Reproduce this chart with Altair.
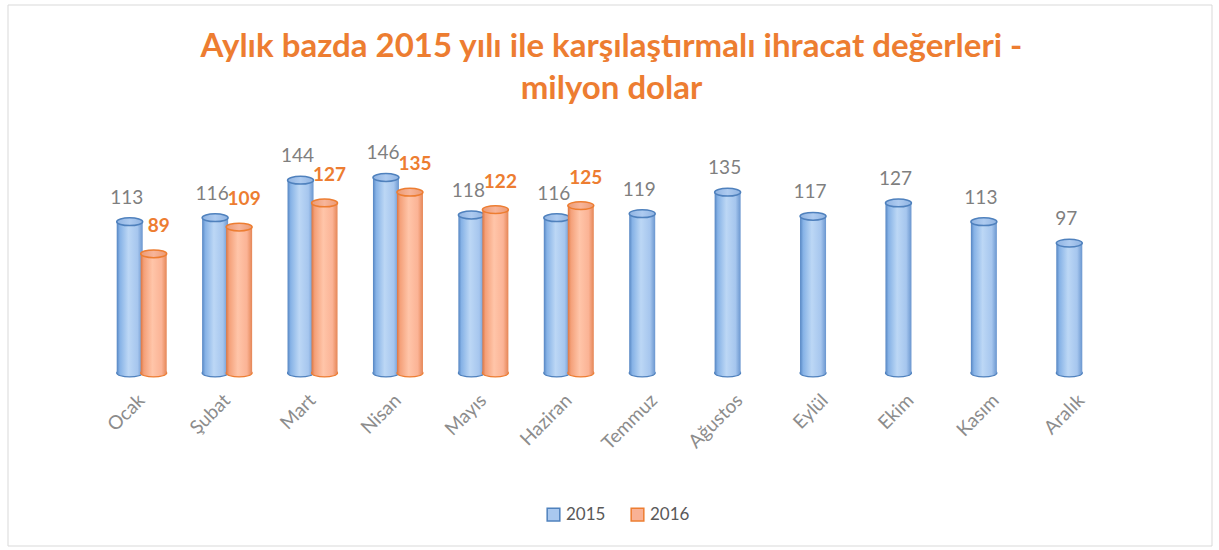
import altair as alt
import pandas as pd

months = ["Ocak", "Şubat", "Mart", "Nisan", "Mayıs", "Haziran", "Temmuz",
          "Ağustos", "Eylül", "Ekim", "Kasım", "Aralık"]
v2015 = [113, 116, 144, 146, 118, 116, 119, 135, 117, 127, 113, 97]
v2016 = [89, 109, 127, 135, 122, 125]
series = ["2015", "2016"]

rows = []
for i, m in enumerate(months):
    rows.append({"month": m, "series": "2015", "value": v2015[i]})
for i, v in enumerate(v2016):
    rows.append({"month": months[i], "series": "2016", "value": v})
df = pd.DataFrame(rows)

W, H = 1025, 233
PL, PT = 99, 140
FONT = "Lato"

ELL = "M-1,0A1,0.3,0,1,0,1,0A1,0.3,0,1,0,-1,0Z"


def grad(stops):
    return alt.Gradient(gradient="linear", x1=0, x2=1, y1=0, y2=0,
                        stops=[alt.GradientStop(offset=o, color=c) for o, c in stops])


blue_body = grad([(0, "#5585c2"), (0.12, "#86b2e6"), (0.45, "#bcd7f5"), (0.8, "#a6c6ee"), (1, "#6a96cf")])
blue_top = grad([(0, "#8fb3e2"), (0.5, "#aecbf0"), (1, "#8fb3e2")])
orng_body = grad([(0, "#db7642"), (0.12, "#f4a079"), (0.45, "#ffc5a9"), (0.8, "#fbb395"), (1, "#e58656")])
orng_top = grad([(0, "#ec9a74"), (0.5, "#f7b59a"), (1, "#ec9a74")])

x = alt.X("month:N", sort=months,
          scale=alt.Scale(paddingInner=0, paddingOuter=0),
          axis=alt.Axis(title=None, labelAngle=-45, labelAlign="right", labelBaseline="middle",
                        labelFont=FONT, labelFontSize=19, labelColor="#8c8c8c",
                        ticks=False, domain=False, grid=False, labelPadding=24))
y = alt.Y("value:Q", scale=alt.Scale(domain=[0, 174]), axis=None)

base = alt.Chart(df)


def cylinder(s, off, body, top, stroke):
    d = base.transform_filter(alt.datum.series == s)
    bottom = d.mark_point(shape=ELL, size=676, filled=True, fill=body, stroke=stroke,
                          strokeWidth=1.2, opacity=1, xOffset=off).encode(x=x, y=alt.value(H))
    bar = d.mark_bar(width=26, xOffset=off, fill=body, strokeWidth=0).encode(x=x, y=y)
    cap = d.mark_point(shape=ELL, size=676, filled=True, fill=top, stroke=stroke,
                       strokeWidth=1.5, opacity=1, xOffset=off).encode(x=x, y=y)
    return [bottom, bar, cap]


legend = alt.Legend(title=None, orient="none", legendX=446, legendY=366, direction="horizontal",
                    symbolType="square", symbolOpacity=1, symbolSize=160, symbolStrokeWidth=1.5,
                    labelFont=FONT, labelFontSize=17, labelColor="#595959", columnPadding=22)

leg = base.mark_point(shape="square", filled=True, opacity=0).encode(
    x=x, y=y,
    color=alt.Color("series:N", scale=alt.Scale(domain=series, range=["#a9c8ef", "#f9b194"]), legend=legend),
    stroke=alt.Stroke("series:N", scale=alt.Scale(domain=series, range=["#4f81bd", "#ed7d31"]), legend=legend),
)

t15 = base.transform_filter(alt.datum.series == "2015").mark_text(
    font=FONT, fontSize=19, color="#7f7f7f", xOffset=-15, dy=-18, baseline="alphabetic"
).encode(x=x, y=y, text="value:Q")
t16 = base.transform_filter(alt.datum.series == "2016").mark_text(
    font=FONT, fontSize=19, fontWeight="bold", color="#ed7d31", xOffset=17, dy=-22, baseline="alphabetic"
).encode(x=x, y=y, text="value:Q")

border = alt.Chart(alt.Data(values=[{"a": 1}])).mark_rect(
    fill=None, stroke="#d9d9d9", strokeWidth=1
).encode(x=alt.value(8 - PL), x2=alt.value(1212 - PL), y=alt.value(5 - PT), y2=alt.value(546 - PT))

layers = [border, leg] + cylinder("2015", -12, blue_body, blue_top, "#4f81bd") + \
    cylinder("2016", 12, orng_body, orng_top, "#ed7d31") + [t15, t16]

chart = alt.layer(*layers).properties(
    width=W, height=H,
    title=alt.TitleParams(["Aylık bazda 2015 yılı ile karşılaştırmalı ihracat değerleri -", "milyon dolar"],
                          font=FONT, fontSize=33, fontWeight="bold", color="#ED7D31",
                          anchor="middle", frame="group", offset=-101, lineHeight=42),
    autosize=alt.AutoSizeParams(type="none"),
    padding={"left": PL, "top": PT, "right": 1219 - PL - W, "bottom": 550 - PT - H},
).configure(background="white").configure_view(stroke=None)

chart.save("out.html", embed_options={"renderer": "svg", "actions": False})
